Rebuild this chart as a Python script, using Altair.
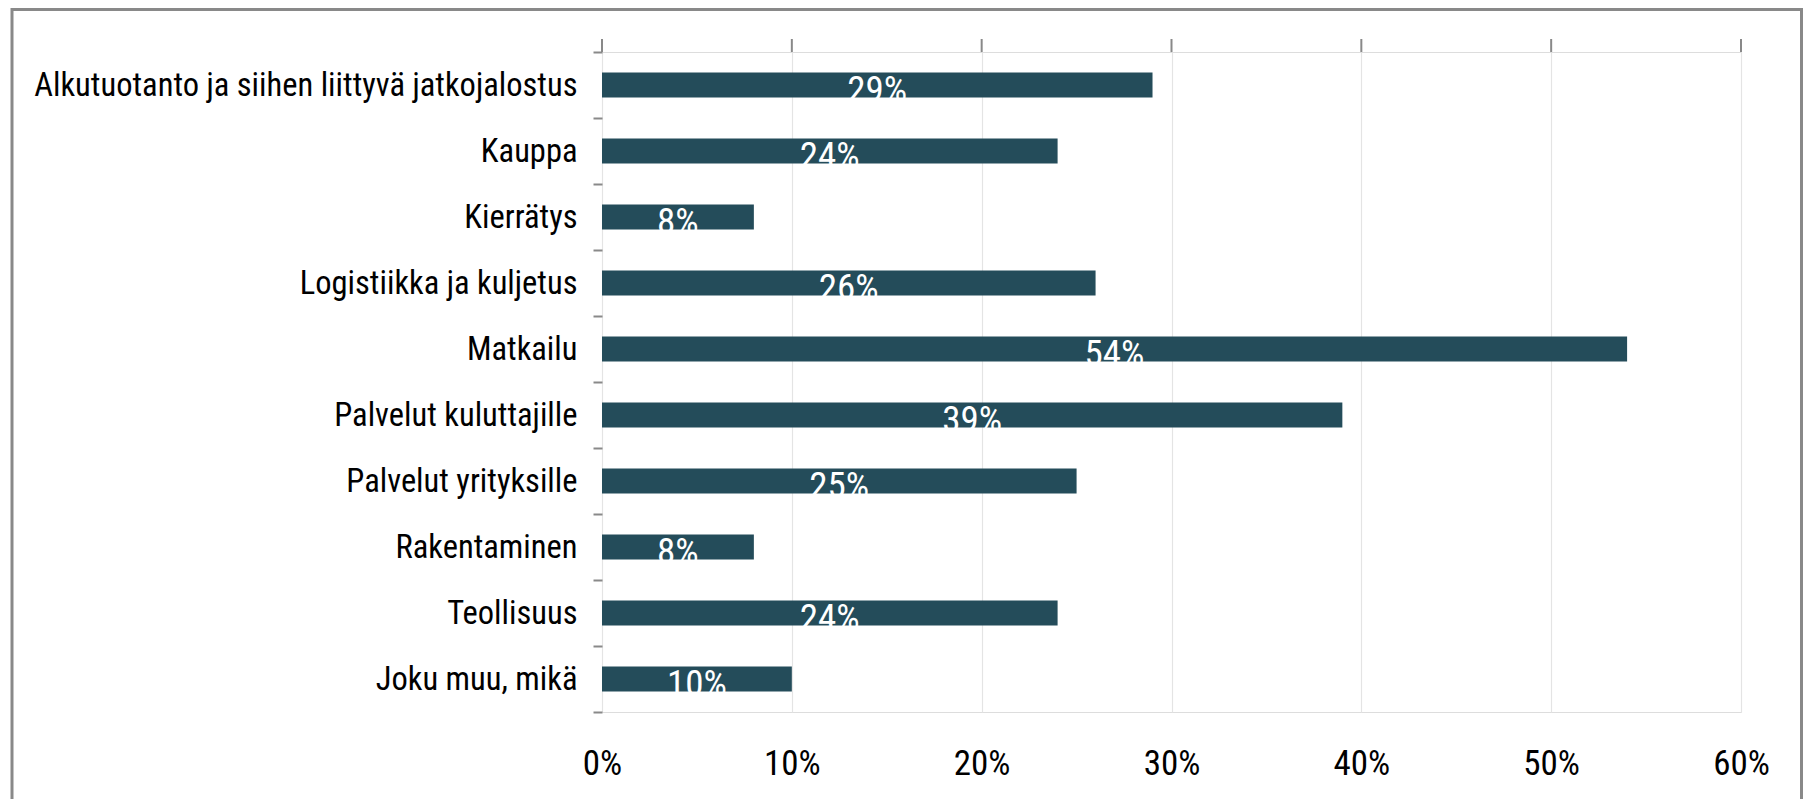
import altair as alt
import pandas as pd

CATEGORIES = [
    "Alkutuotanto ja siihen liittyvä jatkojalostus",
    "Kauppa",
    "Kierrätys",
    "Logistiikka ja kuljetus",
    "Matkailu",
    "Palvelut kuluttajille",
    "Palvelut yrityksille",
    "Rakentaminen",
    "Teollisuus",
    "Joku muu, mikä",
]
VALUES = [0.29, 0.24, 0.08, 0.26, 0.54, 0.39, 0.25, 0.08, 0.24, 0.10]
TICKS = [0.0, 0.1, 0.2, 0.3, 0.4, 0.5, 0.6]

df = pd.DataFrame({"cat": CATEGORIES, "val": VALUES})
df["half"] = df["val"] / 2
df["label"] = (df["val"] * 100).round().astype(int).astype(str) + "%"
ticks_df = pd.DataFrame({"t": TICKS})

FONT = "Roboto Condensed, Liberation Sans, sans-serif"
GRAY = "#898989"
BAR = "#244c5a"

xscale = alt.Scale(domain=[0, 0.6], nice=False, zero=True)
yscale = alt.Scale(domain=CATEGORIES, paddingInner=0, paddingOuter=0)

bars = alt.Chart(df).mark_bar(color=BAR, size=25).encode(
    x=alt.X(
        "val:Q",
        scale=xscale,
        axis=alt.Axis(
            values=TICKS,
            format=".0%",
            orient="bottom",
            ticks=False,
            tickSize=0,
            domain=False,
            grid=True,
            gridColor="#e4e4e4",
            gridWidth=1.2,
            labelFont=FONT,
            labelFontSize=35,
            labelColor="black",
            labelPadding=51,
            labelBaseline="middle",
            labelFlush=False,
            title=None,
        ),
    ),
    y=alt.Y(
        "cat:N",
        sort=CATEGORIES,
        scale=yscale,
        axis=alt.Axis(
            title=None,
            domain=False,
            ticks=True,
            tickBand="extent",
            tickSize=9,
            tickColor=GRAY,
            tickWidth=2,
            labelFont=FONT,
            labelFontSize=32.5,
            labelColor="black",
            labelPadding=16,
            labelLimit=0,
            grid=False,
        ),
    ),
)

labels = alt.Chart(df).mark_text(
    color="white", font=FONT, fontSize=37, baseline="middle", align="center", dy=6
).encode(
    x=alt.X("half:Q", scale=xscale),
    y=alt.Y("cat:N", sort=CATEGORIES, scale=yscale),
    text="label:N",
)

top_ticks = alt.Chart(ticks_df).mark_rule(color=GRAY, strokeWidth=2).encode(
    x=alt.X("t:Q", scale=xscale),
    y=alt.value(-13),
    y2=alt.value(0),
)

outer = alt.Chart(ticks_df.head(1)).mark_rect(
    fill="transparent", stroke=GRAY, strokeWidth=3
).encode(
    x=alt.value(-590),
    x2=alt.value(1199.5),
    y=alt.value(-42.5),
    y2=alt.value(800),
)

chart = (
    alt.layer(outer, bars, labels, top_ticks)
    .properties(
        width=1139,
        height=660,
        autosize=alt.AutoSizeParams(type="none"),
        padding={"left": 594, "top": 44, "right": 62, "bottom": 87},
    )
    .configure_view(stroke=GRAY, strokeWidth=2.5)
    .configure(background="white")
)

chart.save("out.html", embed_options={"renderer": "svg", "actions": False})
